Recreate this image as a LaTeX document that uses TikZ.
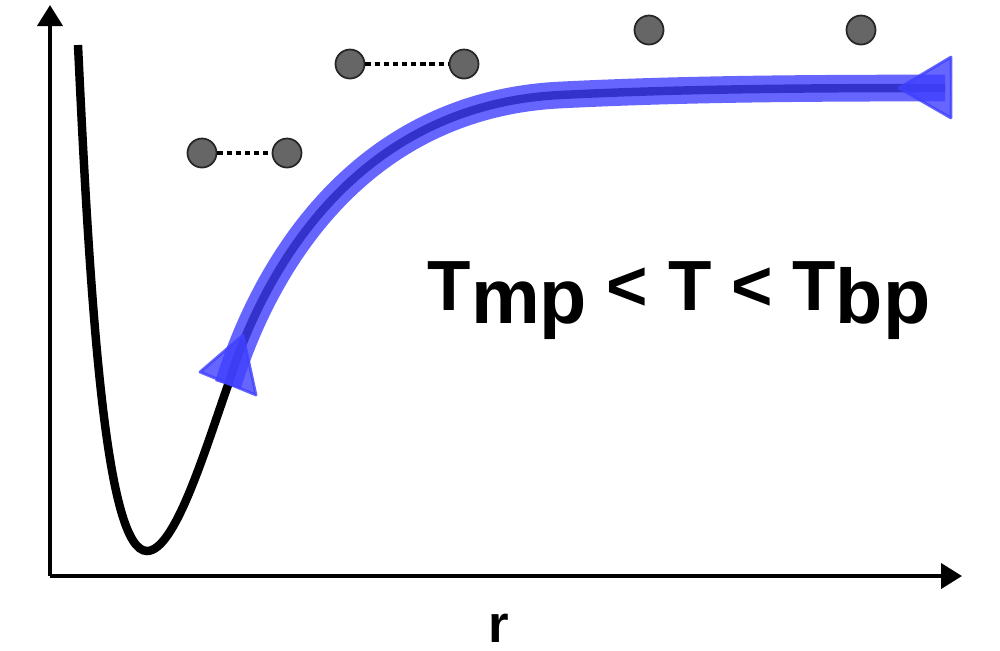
\documentclass[tikz,border=0pt]{standalone}
\usepackage{fontspec}
\setmainfont{Liberation Sans}
\usetikzlibrary{arrows.meta}
\definecolor{pathblue}{HTML}{4040FF}
\definecolor{atomgray}{HTML}{666666}
\tikzset{
x=0.01cm, y=-0.01cm, % one unit is one pixel of the sketch, y runs down
axis/.style={line width=1.14pt, -{Triangle[length=0.21cm, width=0.25cm]}}, % the two axes
potential/.style={line width=2.4pt}, % the black pair potential
route/.style={line width=7.6pt, draw=pathblue, opacity=0.8}, % the blue band on top
tip/.style={draw=pathblue, fill=pathblue, line width=0.8pt, opacity=0.8, line join=round}, % its end triangles
atom/.style={circle, draw=black!85, line width=0.5pt, fill=atomgray, minimum size=0.29cm, inner sep=0pt},
bond/.style={line width=1.3pt, dash pattern=on 1.5pt off 1.1pt}, % dotted bond between atoms
label/.style={font=\bfseries, inner sep=0pt},
}

\begin{document}
\begin{tikzpicture}
    \useasboundingbox (0,0) rectangle (1000,650);

    % axes
    \coordinate (o) at (50,576);
    \coordinate (xend) at (962,576);
    \coordinate (yend) at (50,5);
    \draw[axis] (o) -- (xend);
    \draw[axis] (o) -- (yend);
    \node[label, font=\fontsize{15}{18}\bfseries\selectfont] (r) at (499,628) {r};

    % potential, the blue band follows it from s to e
    \coordinate (top) at (78,45);
    \coordinate (well) at (147,551);
    \coordinate (s) at (228,385);
    \coordinate (e) at (945,88);
    \draw[potential] (top) .. controls (90,300) and (105,551) .. (well)
        .. controls (175,551) and (205,450) .. (s)
        .. controls (265,265) and (360,105) .. (560,95)
        .. controls (680,89) and (800,88) .. (e);
    \draw[route] (s) .. controls (265,265) and (360,105) .. (560,95)
        .. controls (680,89) and (800,88) .. (e);
    \filldraw[tip] (243,335) -- (200,372) -- (256,395) -- cycle;
    \filldraw[tip] (899,88) -- (951,57) -- (951,118) -- cycle;

    % atoms
    \node[atom] (a1) at (202,153) {};
    \node[atom] (a2) at (287,153) {};
    \node[atom] (b1) at (350,64) {};
    \node[atom] (b2) at (464,64) {};
    \node[atom] (c1) at (649,30) {};
    \node[atom] (c2) at (861,30) {};
    \draw[bond] (a1) -- (a2);
    \draw[bond] (b1) -- (b2);

    \node[label, anchor=base west, font=\fontsize{20.2}{24}\bfseries\selectfont] (temp) at (427,310)
        {T\raisebox{-0.13cm}{\fontsize{22}{26}\selectfont mp} {<} T {<} T\raisebox{-0.13cm}{\fontsize{22}{26}\selectfont bp}};
\end{tikzpicture}
\end{document}
